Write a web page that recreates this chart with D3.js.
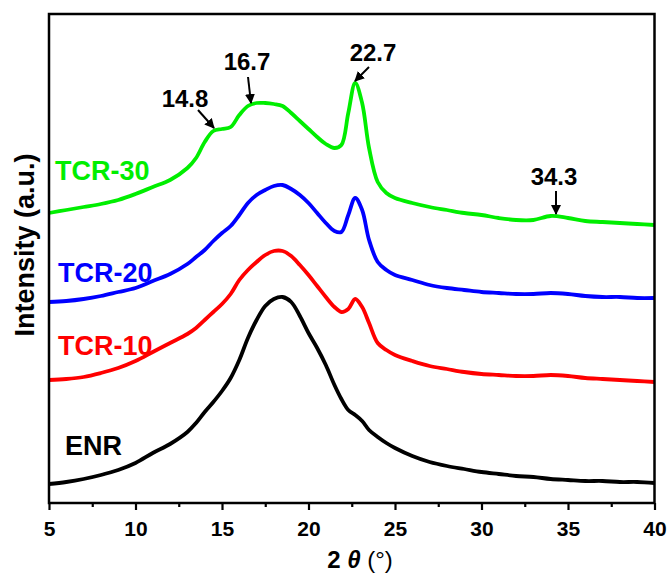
<!DOCTYPE html>
<html>
<head>
<meta charset="utf-8">
<script src="https://cdn.jsdelivr.net/npm/d3@7"></script>
<style>
  body { margin: 0; background: #fff; }
  text { font-family: "Liberation Sans", Arial, sans-serif; font-weight: bold; }
</style>
</head>
<body>
<svg id="chart"></svg>
<script>
// 2theta grid shared by all patterns
const theta = [5, 6, 7, 8, 9, 10, 11, 12, 13, 13.5, 14, 14.5, 15, 15.5, 16, 16.5, 17, 17.5, 18, 18.5,
    19, 19.5, 20, 20.5, 21, 21.5, 21.9, 22.3, 22.7, 23.1, 23.5, 24, 24.5, 25, 26, 27, 28, 29, 30,
    31, 32, 33, 34, 35, 36, 37, 38, 39, 40];

// stacked intensities (a.u.)
const enr = [19, 21, 24, 28, 33, 40, 50, 59, 71, 80, 91, 101, 112, 125, 143, 165, 183, 197, 204, 206,
    201, 187, 170, 155, 138, 118, 104, 93, 88, 82, 73, 66, 60, 55, 47, 41, 37, 34, 31,
    29, 27, 26, 24, 23, 22, 22, 21, 21, 20];
const tcr10 = [123, 124, 126, 130, 135, 142, 151, 160, 169, 175, 183, 191, 199, 209, 223, 233, 241, 248, 252, 252,
    247, 238, 228, 217, 206, 196, 191, 194, 204, 196, 180, 160, 153, 148, 142, 137, 134, 131, 129,
    128, 127, 127, 128, 127, 125, 124, 123, 122, 121];
const tcr20 = [201, 202, 204, 207, 211, 215, 222, 229, 239, 246, 253, 262, 270, 277, 288, 300, 308, 313, 317, 318,
    314, 308, 300, 290, 280, 272, 271, 288, 305, 293, 263, 241, 233, 228, 223, 218, 215, 213, 211,
    210, 209, 209, 210, 209, 207, 206, 206, 205, 205];
const tcr30 = [290, 293, 296, 299, 303, 309, 316, 323, 335, 345, 361, 372, 374, 376, 388, 397, 400, 400, 399, 397,
    390, 382, 374, 366, 359, 355, 358, 390, 420, 400, 355, 321, 310, 305, 300, 296, 293, 290, 288,
    285, 283, 283, 287, 285, 282, 281, 280, 279, 278];

const seriesNames = ["ENR", "TCR-10", "TCR-20", "TCR-30"];
const seriesColors = ["#000000", "#ff0000", "#0000ff", "#00ee00"];
const xTicks = [5, 10, 15, 20, 25, 30, 35, 40];
const peakLabels = ["14.8", "16.7", "22.7", "34.3"];

const width = 671, height = 577;
const margin = {top: 14, right: 16.5, bottom: 74, left: 49};

const svg = d3.select('#chart')
    .attr('width', width)
    .attr('height', height);

const x = d3.scaleLinear()
    .domain([5, 40])
    .range([margin.left, width - margin.right]);
const y = d3.scaleLinear()
    .domain([0, 489])
    .range([height - margin.bottom, margin.top]);

// minor ticks (outward, short)
svg.append('g')
    .attr('transform', `translate(0,${height - margin.bottom})`)
    .call(d3.axisBottom(x).tickValues(xTicks.slice(0, -1).map(d => d + 2.5)).tickSize(4).tickFormat(''))
    .call(g => g.select('.domain').remove())
    .call(g => g.selectAll('line').attr('stroke-width', 2.2));

// major ticks + labels
svg.append('g')
    .attr('transform', `translate(0,${height - margin.bottom})`)
    .call(d3.axisBottom(x).tickValues(xTicks).tickSize(7).tickSizeOuter(0).tickPadding(11))
    .call(g => g.select('.domain').remove())
    .call(g => g.selectAll('line').attr('stroke-width', 2.2))
    .call(g => g.selectAll('text').style('font-size', '21px').attr('fill', '#000'));

// data lines
const allSeries = [enr, tcr10, tcr20, tcr30];
const line = d3.line()
    .x((d, i) => x(theta[i]))
    .y(d => y(d))
    .curve(d3.curveCatmullRom.alpha(0.5));

svg.append('g')
    .selectAll('path')
    .data(allSeries)
    .join('path')
        .attr('d', line)
        .attr('fill', 'none')
        .attr('stroke', (d, i) => seriesColors[i])
        .attr('stroke-width', 3.8)
        .attr('stroke-linejoin', 'round');

// frame
svg.append('rect')
    .attr('x', margin.left)
    .attr('y', margin.top)
    .attr('width', width - margin.left - margin.right)
    .attr('height', height - margin.top - margin.bottom)
    .attr('fill', 'none')
    .attr('stroke', '#000')
    .attr('stroke-width', 2.5);

// series labels
const labelPos = [[65, 455], [58, 355], [58, 282], [55, 180]];
svg.append('g')
    .selectAll('text')
    .data(seriesNames)
    .join('text')
        .attr('x', (d, i) => labelPos[i][0])
        .attr('y', (d, i) => labelPos[i][1])
        .attr('fill', (d, i) => seriesColors[i])
        .style('font-size', '27px')
        .text(d => d);

// peak annotations with arrows
svg.append('defs').append('marker')
    .attr('id', 'arrow')
    .attr('viewBox', '0 0 10 10')
    .attr('refX', 9).attr('refY', 5)
    .attr('markerWidth', 5).attr('markerHeight', 5)
    .attr('orient', 'auto')
  .append('path')
    .attr('d', 'M0,0L10,5L0,10z')
    .attr('fill', '#000');

const peakText = [[185, 107], [247, 70], [373, 61], [554, 185]];
const peakArrow = [[198, 110, 214, 128], [248, 77, 251, 103], [369, 67, 355, 81], [556, 191, 556, 214]];

svg.append('g')
    .selectAll('text')
    .data(peakLabels)
    .join('text')
        .attr('x', (d, i) => peakText[i][0])
        .attr('y', (d, i) => peakText[i][1])
        .attr('text-anchor', 'middle')
        .style('font-size', '24px')
        .text(d => d);

svg.append('g')
    .selectAll('line')
    .data(peakArrow)
    .join('line')
        .attr('x1', d => d[0]).attr('y1', d => d[1])
        .attr('x2', d => d[2]).attr('y2', d => d[3])
        .attr('stroke', '#000')
        .attr('stroke-width', 2)
        .attr('marker-end', 'url(#arrow)');

// axis titles
const xTitle = svg.append('text')
    .attr('x', 360)
    .attr('y', 568)
    .attr('text-anchor', 'middle')
    .style('font-size', '24px');
xTitle.append('tspan').text('2 ');
xTitle.append('tspan').style('font-style', 'italic').text('θ');
xTitle.append('tspan').style('font-weight', 'normal').text(' (°)');

svg.append('text')
    .attr('transform', `translate(34,245) rotate(-90)`)
    .attr('text-anchor', 'middle')
    .style('font-size', '27px')
    .text('Intensity (a.u.)');
</script>
</body>
</html>
